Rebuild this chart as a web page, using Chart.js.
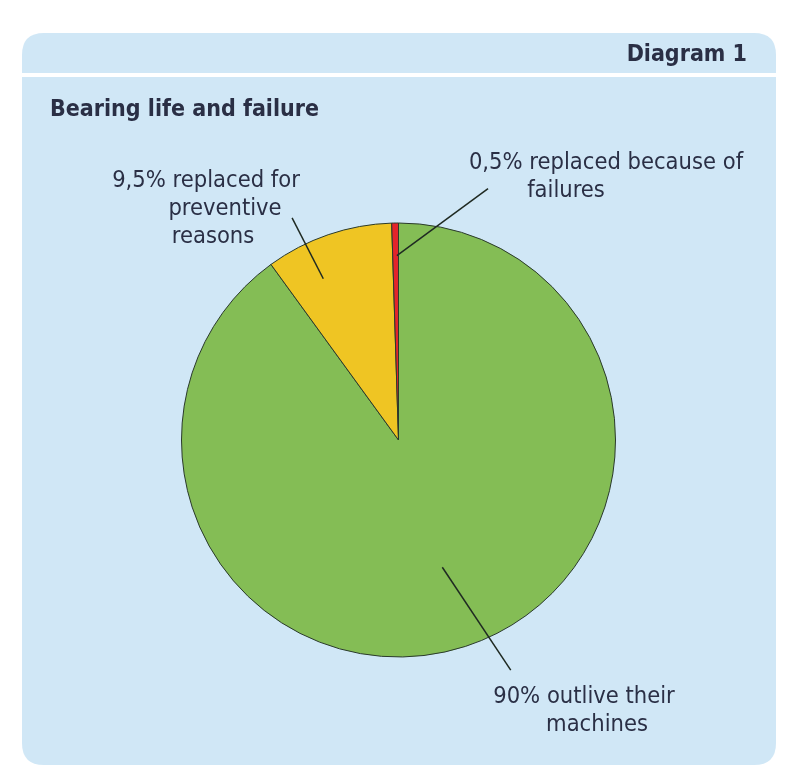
<!DOCTYPE html>
<html>
<head>
<meta charset="utf-8">
<script src="https://cdn.jsdelivr.net/npm/chart.js@4/dist/chart.umd.min.js"></script>
<style>
html,body{margin:0;padding:0;background:#fff;}
#wrap{width:800px;height:778px;position:relative;}
</style>
</head>
<body>
<div id="wrap"><canvas id="c" width="800" height="778"></canvas></div>
<script>
// ---- data ----
const categories = ["90% outlive their machines", "9,5% replaced for preventive reasons", "0,5% replaced because of failures"];
const shares = [90, 9.5, 0.5];
const sliceColors = ["#84bd55", "#efc523", "#e3242b"];
const labelLines = [
  ["90% outlive their", "machines"],
  ["9,5% replaced for", "preventive", "reasons"],
  ["0,5% replaced because of", "failures"]
];
const chartTitle = "Bearing life and failure";
const panelTag = "Diagram 1";

// ---- layout/style (not data) ----
const FONT = '"Liberation Sans Narrow", "DejaVu Sans Condensed", "Roboto Condensed", "Liberation Sans", sans-serif';
const TEXT = "#2a2f45";
// leader: start [angle deg clockwise from top, radius fraction], end [angle, radius fraction]
const leaders = [
  {start:[161, 0.62], end:[154, 1.18], text:[[584,697],[597,725]]},
  {start:[335, 0.82], end:[334.4, 1.135], text:[[206,181],[225,209],[213,237]]},
  {start:[359.5, 0.85], end:[19.6, 1.23], text:[[606,163],[566,191]]}
];

function roundRect(ctx,x,y,w,h,r){
  ctx.beginPath();
  ctx.moveTo(x+r,y);
  ctx.lineTo(x+w-r,y);
  ctx.quadraticCurveTo(x+w,y,x+w,y+r);
  ctx.lineTo(x+w,y+h-r);
  ctx.quadraticCurveTo(x+w,y+h,x+w-r,y+h);
  ctx.lineTo(x+r,y+h);
  ctx.quadraticCurveTo(x,y+h,x,y+h-r);
  ctx.lineTo(x,y+r);
  ctx.quadraticCurveTo(x,y,x+r,y);
  ctx.closePath();
}

const panelPlugin = {
  id:'panel',
  beforeDraw(chart){
    const ctx = chart.ctx;
    ctx.save();
    ctx.fillStyle = "#ffffff";
    ctx.fillRect(0,0,chart.width,chart.height);
    ctx.fillStyle = "#d0e7f6";
    roundRect(ctx,22,33,754,732,22);
    ctx.fill();
    ctx.fillStyle = "#ffffff";
    ctx.fillRect(22,73,754,4);
    ctx.fillStyle = TEXT;
    ctx.font = "bold 23px " + FONT;
    ctx.textBaseline = "middle";
    ctx.textAlign = "right";
    ctx.fillText(panelTag, 747, 55);
    ctx.textAlign = "left";
    ctx.fillText(chartTitle, 50, 110);
    ctx.restore();
  },
  afterDraw(chart){
    const ctx = chart.ctx;
    const arc = chart.getDatasetMeta(0).data[0];
    const cx = arc.x, cy = arc.y, R = arc.outerRadius;
    const pt = (a,f)=>{const t=a*Math.PI/180; return [cx+Math.sin(t)*R*f, cy-Math.cos(t)*R*f];};
    ctx.save();
    ctx.strokeStyle = "#1f2a22";
    ctx.lineWidth = 1.5;
    leaders.forEach((L,i)=>{
      const s = pt(L.start[0],L.start[1]), e = pt(L.end[0],L.end[1]);
      ctx.beginPath(); ctx.moveTo(s[0],s[1]); ctx.lineTo(e[0],e[1]); ctx.stroke();
      ctx.fillStyle = TEXT;
      ctx.font = "23.5px " + FONT;
      ctx.textAlign = "center";
      ctx.textBaseline = "middle";
      labelLines[i].forEach((ln,j)=>{
        ctx.fillText(ln, L.text[j][0], L.text[j][1]);
      });
    });
    ctx.restore();
  }
};

new Chart(document.getElementById('c'), {
  type:'pie',
  data:{
    labels: categories,
    datasets:[{
      data: shares,
      backgroundColor: sliceColors,
      borderColor: "#2a3a2c",
      borderWidth: 1
    }]
  },
  options:{
    responsive:false,
    animation:false,
    layout:{padding:{left:181, right:184, top:222, bottom:120}},
    plugins:{legend:{display:false}, tooltip:{enabled:false}, title:{display:false}}
  },
  plugins:[panelPlugin]
});
</script>
</body>
</html>
